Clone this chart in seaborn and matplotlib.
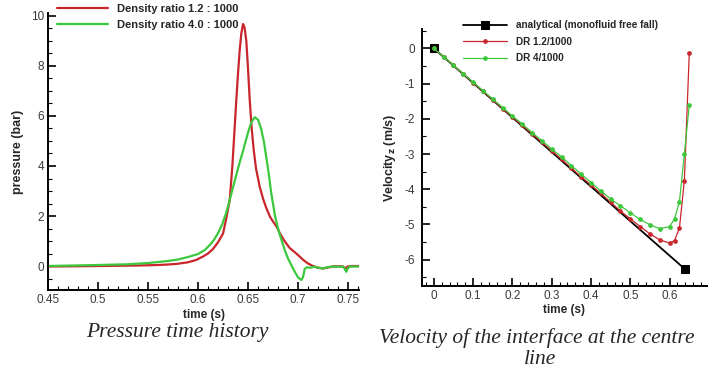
import numpy as np
import pandas as pd
import matplotlib
matplotlib.use("Agg")
import matplotlib.pyplot as plt
from matplotlib.ticker import MultipleLocator
import seaborn as sns

# ---- left panel data: pressure time history ----
t_red = [0.45, 0.48, 0.50, 0.52, 0.54, 0.56, 0.57, 0.58, 0.59, 0.598, 0.605, 0.61, 0.615,
         0.62, 0.625, 0.628, 0.6317, 0.6343, 0.6363, 0.6383, 0.640, 0.6417, 0.6433, 0.645,
         0.6465, 0.6483, 0.650, 0.6517, 0.6537, 0.6557, 0.658, 0.6617, 0.665, 0.668, 0.672,
         0.6755, 0.6787, 0.682, 0.6865, 0.6917, 0.70, 0.705, 0.71, 0.715, 0.72, 0.725, 0.73,
         0.735, 0.74, 0.745, 0.7475, 0.7495, 0.755, 0.761]
p_red = [-0.02, -0.01, 0.0, 0.01, 0.02, 0.04, 0.06, 0.09, 0.15, 0.24, 0.38, 0.5, 0.68,
         0.95, 1.3, 1.85, 2.64, 3.97, 5.3, 6.64, 7.7, 8.64, 9.3, 9.68,
         9.55, 9.0, 7.9, 6.64, 5.5, 4.64, 3.9, 3.17, 2.7, 2.35, 1.97,
         1.75, 1.57, 1.3, 1.0, 0.72, 0.44, 0.25, 0.1, 0.0, -0.07, -0.1, -0.06,
         -0.02, -0.01, -0.02, -0.1, -0.02, 0.0, 0.0]
t_green = [0.45, 0.50, 0.53, 0.55, 0.57, 0.58, 0.59, 0.60, 0.6067, 0.612, 0.616, 0.62,
           0.624, 0.628, 0.6317, 0.635, 0.6383, 0.6417, 0.645, 0.648, 0.6505, 0.6533,
           0.6567, 0.66, 0.663, 0.666, 0.67, 0.6733, 0.677, 0.681, 0.6867, 0.69, 0.6933,
           0.697, 0.70, 0.7033, 0.705, 0.7067, 0.709, 0.712, 0.716, 0.72, 0.725, 0.73,
           0.735, 0.74, 0.745, 0.7465, 0.7483, 0.75, 0.752, 0.761]
p_green = [0.0, 0.04, 0.07, 0.12, 0.2, 0.26, 0.36, 0.48, 0.64, 0.85, 1.05, 1.31,
           1.65, 2.1, 2.64, 3.15, 3.65, 4.15, 4.6, 5.05, 5.4, 5.75,
           5.95, 5.85, 5.5, 4.95, 3.9, 2.9, 2.0, 1.35, 0.64, 0.3, 0.04,
           -0.25, -0.45, -0.56, -0.45, -0.12, -0.05, -0.07, -0.03, -0.06, -0.1, -0.04,
           -0.02, -0.03, -0.02, -0.1, -0.23, -0.08, -0.02, -0.02]

# ---- right panel data: interface velocity ----
t_an = [0.0, 0.64]
v_an = [0.0, -6.28]
t_dr = [0, .025, .05, .075, .1, .125, .15, .175, .2, .225, .25, .275, .3, .325, .35,
        .375, .4, .425, .45, .475, .5, .525, .55, .575, .6, .6125, .625, .6375, .65]
v_dr12 = [0, -0.24, -0.48, -0.73, -0.97, -1.22, -1.46, -1.71, -1.95, -2.19, -2.43, -2.67,
          -2.91, -3.15, -3.40, -3.65, -3.88, -4.12, -4.37, -4.62, -4.84, -5.06, -5.27,
          -5.44, -5.53, -5.46, -5.10, -3.76, -0.13]
v_dr4 = [0, -0.24, -0.48, -0.72, -0.96, -1.20, -1.44, -1.68, -1.92, -2.15, -2.39, -2.62,
         -2.86, -3.08, -3.33, -3.57, -3.81, -4.05, -4.28, -4.47, -4.67, -4.86, -5.01,
         -5.12, -5.06, -4.84, -4.35, -3.00, -1.61]

RED = "#c8262c"
GREEN = "#3cc83c"

sns.set_style("white")
plt.rcParams['font.family'] = ['Liberation Sans', 'DejaVu Sans']
plt.rcParams['axes.unicode_minus'] = False

fig = plt.figure(figsize=(7.17, 3.71), dpi=100)
ax1 = fig.add_axes([0.067, 0.2183, 0.4337, 0.7467])
ax2 = fig.add_axes([0.5886, 0.229, 0.3974, 0.6928])

sns.lineplot(x=t_red, y=p_red, ax=ax1, color=RED, lw=1.6, label="Density ratio 1.2 : 1000", sort=False)
sns.lineplot(x=t_green, y=p_green, ax=ax1, color=GREEN, lw=1.6, label="Density ratio 4.0 : 1000", sort=False)

sns.lineplot(x=t_an, y=v_an, ax=ax2, color="black", lw=1.3, marker="s", markersize=6,
             markeredgecolor="black", label="analytical (monofluid free fall)")
sns.lineplot(x=t_dr, y=v_dr12, ax=ax2, color=RED, lw=0.9, marker="o", markersize=2.6,
             markeredgecolor=RED, label="DR 1.2/1000", sort=False)
sns.lineplot(x=t_dr, y=v_dr4, ax=ax2, color=GREEN, lw=0.9, marker="o", markersize=2.6,
             markeredgecolor=GREEN, label="DR 4/1000", sort=False)

ax1.set_xlim(0.45, 0.761)
ax1.set_ylim(-0.96, 10.12)
ax1.xaxis.set_minor_locator(MultipleLocator(0.01))
ax1.yaxis.set_major_locator(MultipleLocator(2))
ax1.yaxis.set_minor_locator(MultipleLocator(0.5))
ax1.set_xticks([0.45, 0.5, 0.55, 0.6, 0.65, 0.7, 0.75])
ax1.set_xticklabels(["0.45", "0.5", "0.55", "0.6", "0.65", "0.7", "0.75"])

ax2.set_xlim(-0.03, 0.695)
ax2.set_ylim(-6.75, 0.55)
ax2.xaxis.set_minor_locator(MultipleLocator(0.02))
ax2.yaxis.set_major_locator(MultipleLocator(1))
ax2.yaxis.set_minor_locator(MultipleLocator(0.5))
ax2.set_xticks([0, 0.1, 0.2, 0.3, 0.4, 0.5, 0.6])
ax2.set_xticklabels(["0", "0.1", "0.2", "0.3", "0.4", "0.5", "0.6"])

for ax in (ax1, ax2):
    for s in ("top", "right"):
        ax.spines[s].set_visible(False)
    for s in ("left", "bottom"):
        ax.spines[s].set_color("black")
        ax.spines[s].set_linewidth(1.4)
    ax.tick_params(which="major", direction="in", length=6, width=1.2, color="black",
                   labelsize=8.5, labelcolor="#3a3a3a", pad=3)
    ax.tick_params(which="minor", direction="in", length=3, width=0.8, color="black")
    ax.tick_params(bottom=True, left=True, which="both")

ax1.set_xlabel("time (s)", fontsize=8.5, fontweight="bold", labelpad=2)
ax2.set_xlabel("time (s)", fontsize=8.5, fontweight="bold", labelpad=1)
ax1.set_ylabel("pressure (bar)", fontsize=9, fontweight="bold", labelpad=5)
ax2.set_ylabel("Velocity$_{\\mathbf{z}}$ (m/s)", fontsize=9, fontweight="bold", labelpad=5)
ax2.tick_params(axis="y", pad=5)

ax1.legend(loc="upper left", bbox_to_anchor=(0.015, 1.05), frameon=False,
           prop={"weight": "bold", "size": 8}, handlelength=4.6, labelspacing=0.55,
           handletextpad=0.8, borderaxespad=0)
ax2.legend(loc="upper left", bbox_to_anchor=(0.13, 1.05), frameon=False,
           prop={"weight": "bold", "size": 7.2}, handlelength=4.4, labelspacing=0.65,
           handletextpad=0.9, borderaxespad=0)

cap = dict(family="Liberation Serif", style="italic", fontsize=15.5, ha="center", va="center")
fig.text(177 / 717, 1 - 332 / 371, "Pressure time history", **cap)
fig.text(537 / 717, 1 - 338 / 371, "Velocity of the interface at the centre", **cap)
fig.text(540 / 717, 1 - 360 / 371, "line", **cap)

fig.savefig("out.png", dpi=100)
